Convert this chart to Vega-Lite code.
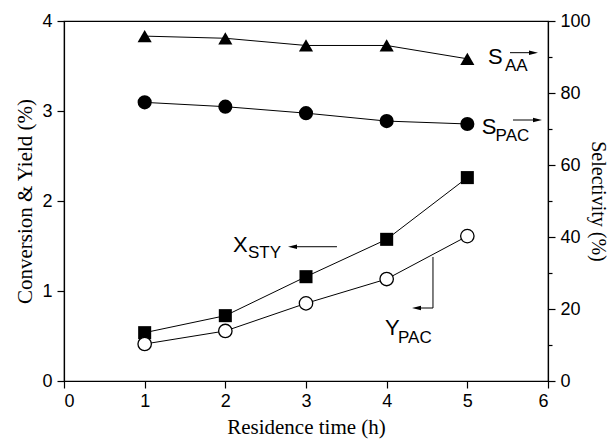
{
  "$schema": "https://vega.github.io/schema/vega-lite/v6.json",
  "width": 484,
  "height": 360,
  "autosize": "none",
  "padding": {"left": 64, "top": 21, "right": 62, "bottom": 60},
  "background": "white",
  "config": {
    "view": {"stroke": "black", "strokeWidth": 1.2},
    "axis": {
      "grid": false,
      "domainColor": "black",
      "domainWidth": 1.2,
      "tickColor": "black",
      "tickWidth": 1.2,
      "labelFont": "Liberation Sans",
      "labelFontSize": 18,
      "labelColor": "black",
      "titleFont": "Liberation Serif",
      "titleFontSize": 21,
      "titleFontWeight": "normal",
      "titleColor": "black"
    }
  },
  "datasets": {
    "left": [
      {"x": 1, "y": 0.537, "s": "X"}, {"x": 2, "y": 0.726, "s": "X"}, {"x": 3, "y": 1.159, "s": "X"}, {"x": 4, "y": 1.574, "s": "X"}, {"x": 5, "y": 2.26, "s": "X"},
      {"x": 1, "y": 0.411, "s": "Y"}, {"x": 2, "y": 0.556, "s": "Y"}, {"x": 3, "y": 0.863, "s": "Y"}, {"x": 4, "y": 1.133, "s": "Y"}, {"x": 5, "y": 1.61, "s": "Y"}
    ],
    "right": [
      {"x": 1, "y": 95.8, "s": "AA"}, {"x": 2, "y": 95.2, "s": "AA"}, {"x": 3, "y": 93.2, "s": "AA"}, {"x": 4, "y": 93.2, "s": "AA"}, {"x": 5, "y": 89.5, "s": "AA"},
      {"x": 1, "y": 77.4, "s": "PAC"}, {"x": 2, "y": 76.2, "s": "PAC"}, {"x": 3, "y": 74.4, "s": "PAC"}, {"x": 4, "y": 72.2, "s": "PAC"}, {"x": 5, "y": 71.4, "s": "PAC"}
    ],
    "arrows": [
      {"x": 5.529, "x2": 5.82, "y": 3.648, "y2": 3.648},
      {"x": 5.566, "x2": 5.87, "y": 2.9, "y2": 2.9},
      {"x": 3.384, "x2": 2.833, "y": 1.492, "y2": 1.492},
      {"x": 4.574, "x2": 4.574, "y": 1.378, "y2": 0.811},
      {"x": 4.574, "x2": 4.37, "y": 0.811, "y2": 0.811}
    ],
    "heads": [
      {"x": 5.82, "y": 3.648, "d": "r"},
      {"x": 5.87, "y": 2.9, "d": "r"},
      {"x": 2.833, "y": 1.492, "d": "l"},
      {"x": 4.37, "y": 0.811, "d": "l"}
    ],
    "big": [
      {"x": 5.256, "y": 3.6, "txt": "S"},
      {"x": 5.18, "y": 2.82, "txt": "S"},
      {"x": 2.095, "y": 1.511, "txt": "X"},
      {"x": 3.979, "y": 0.589, "txt": "Y"}
    ],
    "sub": [
      {"x": 5.467, "y": 3.5, "txt": "AA"},
      {"x": 5.35, "y": 2.72, "txt": "PAC"},
      {"x": 2.281, "y": 1.422, "txt": "STY"},
      {"x": 4.14, "y": 0.478, "txt": "PAC"}
    ]
  },
  "encoding": {
    "x": {
      "field": "x",
      "type": "quantitative",
      "scale": {"domain": [0, 6], "nice": false, "zero": false},
      "axis": {
        "title": "Residence time (h)",
        "format": "d",
        "values": [0, 0.5, 1, 1.5, 2, 2.5, 3, 3.5, 4, 4.5, 5, 5.5, 6],
        "labelExpr": "datum.value % 1 === 0 ? datum.label : ''",
        "tickSize": {"condition": {"test": "datum.value % 1 === 0", "value": 7}, "value": 4},
        "labelPadding": 4,
        "titlePadding": 6
      }
    }
  },
  "layer": [
    {
      "encoding": {
        "y": {
          "field": "y",
          "type": "quantitative",
          "scale": {"domain": [0, 4], "nice": false, "zero": false},
          "axis": {
            "orient": "left",
            "title": "Conversion & Yield (%)",
            "format": "d",
            "values": [0, 0.5, 1, 1.5, 2, 2.5, 3, 3.5, 4],
            "labelExpr": "datum.value % 1 === 0 ? datum.label : ''",
            "tickSize": {"condition": {"test": "datum.value % 1 === 0", "value": 7}, "value": 4},
            "labelPadding": 5,
            "titlePadding": 6
          }
        }
      },
      "layer": [
        {"data": {"name": "left"}, "mark": {"type": "line", "color": "black", "strokeWidth": 1}, "encoding": {"detail": {"field": "s"}}},
        {"data": {"name": "left"}, "transform": [{"filter": "datum.s === 'X'"}], "mark": {"type": "point", "shape": "square", "filled": true, "color": "black", "size": 170, "opacity": 1}},
        {"data": {"name": "left"}, "transform": [{"filter": "datum.s === 'Y'"}], "mark": {"type": "point", "shape": "circle", "filled": true, "fill": "white", "stroke": "black", "strokeWidth": 1.3, "size": 180, "opacity": 1}},
        {"data": {"name": "arrows"}, "mark": {"type": "rule", "color": "black", "strokeWidth": 1}, "encoding": {"x2": {"field": "x2"}, "y2": {"field": "y2"}}},
        {"data": {"name": "heads"}, "mark": {"type": "point", "filled": true, "color": "black", "size": 81, "opacity": 1, "strokeWidth": 0}, "encoding": {"shape": {"field": "d", "type": "nominal", "scale": {"domain": ["r", "l"], "range": ["M-1,-0.5L1,0L-1,0.5Z", "M1,-0.5L-1,0L1,0.5Z"]}, "legend": null}}},
        {"data": {"name": "big"}, "mark": {"type": "text", "font": "Liberation Sans", "fontSize": 22, "align": "left", "baseline": "middle", "color": "black"}, "encoding": {"text": {"field": "txt"}}},
        {"data": {"name": "sub"}, "mark": {"type": "text", "font": "Liberation Sans", "fontSize": 17, "align": "left", "baseline": "middle", "color": "black"}, "encoding": {"text": {"field": "txt"}}}
      ]
    },
    {
      "data": {"name": "right"},
      "encoding": {
        "y": {
          "field": "y",
          "type": "quantitative",
          "scale": {"domain": [0, 100], "nice": false, "zero": false},
          "axis": {
            "orient": "right",
            "title": "Selectivity (%)",
            "values": [0, 10, 20, 30, 40, 50, 60, 70, 80, 90, 100],
            "labelExpr": "datum.value % 20 === 0 ? datum.label : ''",
            "tickSize": {"condition": {"test": "datum.value % 20 === 0", "value": 7}, "value": 4},
            "labelPadding": 5,
            "titlePadding": -3,
            "titleFontSize": 20
          }
        }
      },
      "layer": [
        {"mark": {"type": "line", "color": "black", "strokeWidth": 1}, "encoding": {"detail": {"field": "s"}}},
        {"transform": [{"filter": "datum.s === 'AA'"}], "mark": {"type": "point", "shape": "triangle-up", "filled": true, "color": "black", "size": 200, "opacity": 1}},
        {"transform": [{"filter": "datum.s === 'PAC'"}], "mark": {"type": "point", "shape": "circle", "filled": true, "color": "black", "size": 200, "opacity": 1}}
      ]
    }
  ],
  "resolve": {"scale": {"y": "independent"}}
}
